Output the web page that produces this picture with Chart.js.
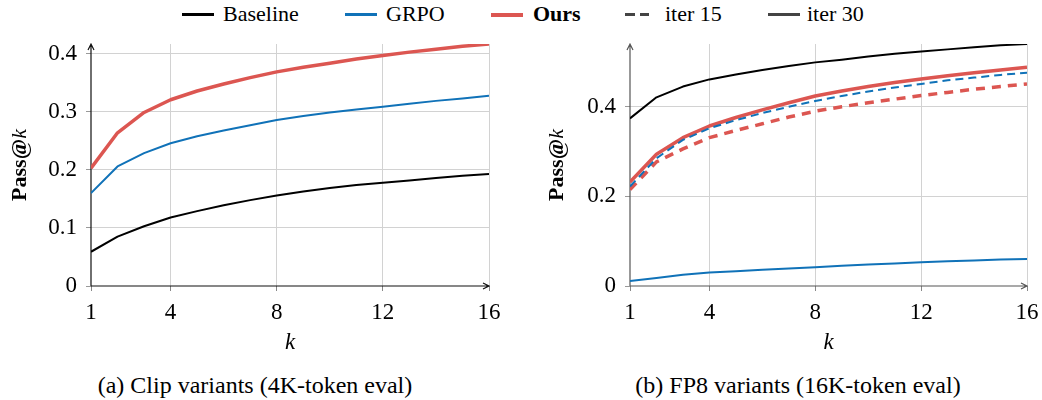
<!DOCTYPE html>
<html>
<head>
<meta charset="utf-8">
<script src="https://cdn.jsdelivr.net/npm/chart.js@4/dist/chart.umd.min.js"></script>
<style>
  html, body { margin: 0; padding: 0; background: #fff; }
  #page { position: relative; width: 1042px; height: 400px; overflow: hidden;
          font-family: 'Liberation Serif', 'Times New Roman', serif; color: #000; }
  .lg { position: absolute; top: 0; line-height: 28px; font-size: 22px; white-space: nowrap;
        font-family: 'Liberation Serif', serif; }
  .sw { position: absolute; top: 13px; height: 3px; }
  canvas { position: absolute; top: 30px; }
  .cap { position: absolute; top: 371px; font-size: 24px; line-height: 28px;
         font-family: 'Liberation Serif', serif;
         transform: translateX(-50%); white-space: nowrap; }
</style>
</head>
<body>
<div id="page">
  <!-- shared legend -->
  <div class="sw" style="left:182px;width:32px;background:#000"></div>
  <span class="lg" style="left:223px">Baseline</span>
  <div class="sw" style="left:345px;width:32px;background:#1072b8"></div>
  <span class="lg" style="left:386px">GRPO</span>
  <div class="sw" style="left:491px;width:32px;height:4px;background:#dc5651"></div>
  <span class="lg" style="left:533px;font-weight:bold">Ours</span>
  <div class="sw" style="left:625px;width:10px;background:#444"></div>
  <div class="sw" style="left:640px;width:9px;background:#444"></div>
  <span class="lg" style="left:665px">iter 15</span>
  <div class="sw" style="left:768px;width:32px;background:#444"></div>
  <span class="lg" style="left:807px">iter 30</span>

  <canvas id="clipChart" width="520" height="330" style="left:0"></canvas>
  <canvas id="fp8Chart" width="522" height="330" style="left:520px"></canvas>

  <div class="cap" style="left:255px">(a) Clip variants (4K-token eval)</div>
  <div class="cap" style="left:798px">(b) FP8 variants (16K-token eval)</div>
</div>

<script>
// Sample counts k
const kValues = [1, 2, 3, 4, 5, 6, 7, 8, 9, 10, 11, 12, 13, 14, 15, 16];
const kTicks = [1, 4, 8, 12, 16];

// (a) Clip variants, 4K-token eval
const clipBaseline = [0.059, 0.085, 0.103, 0.118, 0.129, 0.139, 0.148, 0.156, 0.163, 0.169, 0.174, 0.178, 0.182, 0.186, 0.190, 0.193];
const clipGRPO     = [0.160, 0.206, 0.229, 0.246, 0.258, 0.268, 0.277, 0.286, 0.293, 0.299, 0.304, 0.309, 0.314, 0.319, 0.323, 0.328];
const clipOurs     = [0.203, 0.264, 0.299, 0.321, 0.336, 0.348, 0.359, 0.369, 0.377, 0.384, 0.391, 0.397, 0.403, 0.408, 0.413, 0.417];
const clipYTicks = [0, 0.1, 0.2, 0.3, 0.4];

// (b) FP8 variants, 16K-token eval
const fp8Baseline   = [0.374, 0.421, 0.445, 0.461, 0.472, 0.482, 0.491, 0.499, 0.505, 0.512, 0.518, 0.523, 0.528, 0.533, 0.537, 0.540];
const fp8GRPOIter30 = [0.011, 0.018, 0.025, 0.030, 0.033, 0.036, 0.039, 0.042, 0.045, 0.048, 0.050, 0.053, 0.055, 0.057, 0.059, 0.060];
const fp8GRPOIter15 = [0.222, 0.285, 0.326, 0.352, 0.370, 0.386, 0.400, 0.413, 0.424, 0.434, 0.443, 0.451, 0.459, 0.465, 0.471, 0.476];
const fp8OursIter15 = [0.215, 0.277, 0.306, 0.331, 0.347, 0.362, 0.377, 0.390, 0.400, 0.409, 0.417, 0.425, 0.432, 0.439, 0.445, 0.451];
const fp8OursIter30 = [0.232, 0.294, 0.331, 0.357, 0.376, 0.393, 0.409, 0.424, 0.435, 0.445, 0.454, 0.462, 0.469, 0.476, 0.482, 0.488];
const fp8YTicks = [0, 0.2, 0.4];

const BLACK = '#000000';
const BLUE = '#1072b8';
const RED = '#dc5651';
const SERIF = "'Liberation Serif', 'Times New Roman', serif";
const TICK_FONT = { family: SERIF, size: 23 };

function points(ys) {
  return ys.map((y, i) => ({ x: kValues[i], y: y }));
}

function line(label, ys, color, width, dash) {
  return {
    label: label,
    data: points(ys),
    borderColor: color,
    backgroundColor: color,
    borderWidth: width,
    borderDash: dash || [],
    pointRadius: 0,
    tension: 0,
    borderJoinStyle: 'round',
    fill: false
  };
}

// Axis lines with arrow heads plus the Pass@k / k titles
const axisPlugin = {
  id: 'arrowAxes',
  beforeDatasetsDraw(chart, args, opts) {
    const { ctx, chartArea: a } = chart;
    ctx.save();
    ctx.strokeStyle = opts.color;
    ctx.lineWidth = 1.2;
    ctx.beginPath();
    ctx.moveTo(a.left, a.bottom);
    ctx.lineTo(a.left, a.top);
    ctx.moveTo(a.left, a.bottom);
    ctx.lineTo(a.right, a.bottom);
    // arrow heads
    ctx.moveTo(a.left - 3, a.top + 6);
    ctx.lineTo(a.left, a.top);
    ctx.lineTo(a.left + 3, a.top + 6);
    ctx.moveTo(a.right - 6, a.bottom - 3);
    ctx.lineTo(a.right, a.bottom);
    ctx.lineTo(a.right - 6, a.bottom + 3);
    ctx.stroke();
    ctx.restore();
  },
  afterDraw(chart, args, opts) {
    const { ctx, chartArea: a } = chart;
    ctx.save();
    ctx.fillStyle = '#000';
    ctx.textBaseline = 'middle';
    // y title, rotated
    ctx.translate(a.left - opts.yTitleOffset, (a.top + a.bottom) / 2);
    ctx.rotate(-Math.PI / 2);
    const bold = 'bold 22px ' + SERIF;
    const ital = 'italic 22px ' + SERIF;
    ctx.font = bold;
    const w1 = ctx.measureText('Pass@').width;
    ctx.font = ital;
    const w2 = ctx.measureText('k').width;
    const x0 = -(w1 + w2) / 2;
    ctx.textAlign = 'left';
    ctx.font = bold;
    ctx.fillText('Pass@', x0, 0);
    ctx.font = ital;
    ctx.fillText('k', x0 + w1, 0);
    ctx.restore();
    // x title
    ctx.save();
    ctx.fillStyle = '#000';
    ctx.textAlign = 'center';
    ctx.textBaseline = 'middle';
    ctx.font = 'italic 23px ' + SERIF;
    ctx.fillText('k', (a.left + a.right) / 2, a.bottom + 57);
    ctx.restore();
  }
};

function makeChart(canvasId, datasets, yTicks, yMax, yWidth, padRight, axisColor, yTitleOffset) {
  const ctx = document.getElementById(canvasId).getContext('2d');
  return new Chart(ctx, {
    type: 'line',
    data: { datasets: datasets },
    plugins: [axisPlugin],
    options: {
      responsive: false,
      animation: false,
      events: [],
      layout: { autoPadding: false, padding: { left: 0, right: padRight, top: 14, bottom: 0 } },
      plugins: {
        legend: { display: false },
        tooltip: { enabled: false },
        arrowAxes: { color: axisColor, yTitleOffset: yTitleOffset }
      },
      scales: {
        x: {
          type: 'linear',
          min: 1,
          max: 16,
          afterBuildTicks: s => { s.ticks = kTicks.map(v => ({ value: v })); },
          afterFit: s => {
            s.height = 74;
            s.paddingLeft = 0;
            s.paddingRight = 0;
          },
          border: { display: false },
          grid: {
            color: c => (c.tick && c.tick.value === 1 ? 'rgba(0,0,0,0)' : '#d2d2d2'),
            borderDash: [5, 5],
            tickLength: 5,
            tickColor: '#888',
            tickBorderDash: []
          },
          ticks: { color: '#000', font: TICK_FONT, padding: 8, maxRotation: 0 }
        },
        y: {
          min: 0,
          max: yMax,
          afterBuildTicks: s => { s.ticks = yTicks.map(v => ({ value: v })); },
          afterFit: s => {
            s.width = yWidth;
            s.paddingTop = 0;
            s.paddingBottom = 0;
          },
          border: { display: false },
          grid: {
            color: c => (c.tick && c.tick.value === 0 ? 'rgba(0,0,0,0)' : '#d2d2d2'),
            borderDash: [5, 5],
            tickLength: 5,
            tickColor: '#999',
            tickBorderDash: []
          },
          ticks: {
            color: '#000',
            font: TICK_FONT,
            padding: 9,
            callback: v => (v === 0 ? '0' : v.toFixed(1))
          }
        }
      }
    }
  });
}

function drawCharts() {
  makeChart('clipChart', [
    line('Baseline', clipBaseline, BLACK, 2),
    line('GRPO', clipGRPO, BLUE, 2),
    line('Ours', clipOurs, RED, 3.5)
  ], clipYTicks, 0.417, 91, 31, '#111', 71);

  makeChart('fp8Chart', [
    line('Baseline', fp8Baseline, BLACK, 2),
    line('GRPO iter 30', fp8GRPOIter30, BLUE, 2),
    line('GRPO iter 15', fp8GRPOIter15, BLUE, 2, [8, 5]),
    line('Ours iter 15', fp8OursIter15, RED, 3.5, [9, 7]),
    line('Ours iter 30', fp8OursIter30, RED, 3.5)
  ], fp8YTicks, 0.54, 110, 15, '#555', 73);
}

// wait for the serif face before painting canvas text
if (document.fonts && document.fonts.load) {
  Promise.all([
    document.fonts.load('23px ' + SERIF),
    document.fonts.load('bold 22px ' + SERIF),
    document.fonts.load('italic 22px ' + SERIF)
  ]).then(drawCharts, drawCharts);
} else {
  drawCharts();
}
</script>
</body>
</html>
